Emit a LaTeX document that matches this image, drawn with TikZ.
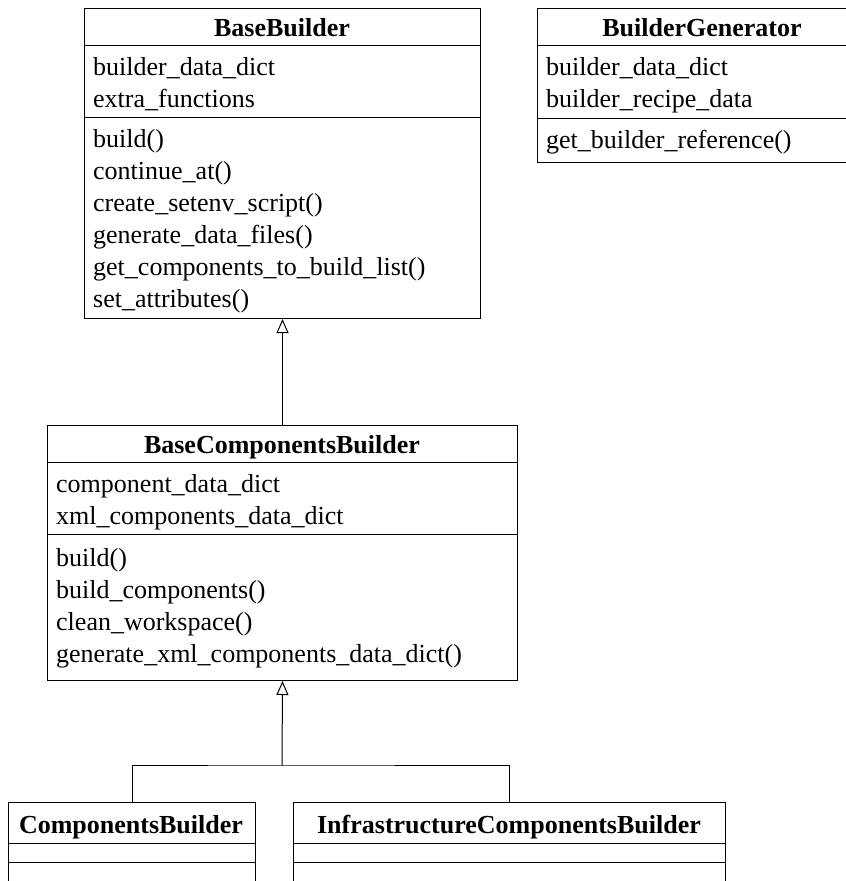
\documentclass[tikz,border=0pt]{standalone}
\usepackage{fontspec}
\setmainfont{Liberation Serif}
\usetikzlibrary{arrows.meta}
\tikzset{
  classbox/.style = {draw, line width=1pt, inner sep=0pt, anchor=north west},
  classname/.style = {anchor=base, inner sep=0pt, font=\fontsize{26}{30}\selectfont\bfseries},
  member/.style = {anchor=base west, inner sep=0pt, font=\fontsize{26}{30}\selectfont},
  inherit/.style = {line width=1pt, -{Triangle[open, length=14pt, width=12pt]}}
}

\begin{document}
\begin{tikzpicture}[x=1pt, y=-1pt]
  \useasboundingbox (0,0) rectangle (846,881);
  \clip (0,0) rectangle (846,881);

  % BaseBuilder
  \node[classbox, minimum width=396pt, minimum height=310pt] (bb) at (84,8) {};
  \draw[line width=1pt] (84,45) -- (480,45) (84,117) -- (480,117);
  \node[classname] (bbname) at (282,36) {BaseBuilder};
  \foreach \t [count=\i] in {builder\_data\_dict, extra\_functions}
    \node[member] (bba\i) at (93,43+32*\i) {\t};
  \foreach \t [count=\i] in {build(), continue\_at(), create\_setenv\_script(),
      generate\_data\_files(), get\_components\_to\_build\_list(), set\_attributes()}
    \node[member] (bbm\i) at (93,115+32*\i) {\t};

  % BuilderGenerator
  \node[classbox, minimum width=330pt, minimum height=154pt] (bg) at (537,8) {};
  \draw[line width=1pt] (537,45) -- (867,45) (537,118) -- (867,118);
  \node[classname] (bgname) at (702,36) {BuilderGenerator};
  \foreach \t [count=\i] in {builder\_data\_dict, builder\_recipe\_data}
    \node[member] (bga\i) at (546,43+32*\i) {\t};
  \node[member] (bgm1) at (546,148) {get\_builder\_reference()};

  % BaseComponentsBuilder
  \node[classbox, minimum width=470pt, minimum height=255pt] (bcb) at (47,425) {};
  \draw[line width=1pt] (47,462) -- (517,462) (47,534) -- (517,534);
  \node[classname] (bcbname) at (282,453) {BaseComponentsBuilder};
  \foreach \t [count=\i] in {component\_data\_dict, xml\_components\_data\_dict}
    \node[member] (bcba\i) at (56,460+32*\i) {\t};
  \foreach \t [count=\i] in {build(), build\_components(), clean\_workspace(),
      generate\_xml\_components\_data\_dict()}
    \node[member] (bcbm\i) at (56,534+32*\i) {\t};

  % subclasses, cut off at the bottom
  \node[classbox, minimum width=247pt, minimum height=120pt] (cb) at (8,802) {};
  \draw[line width=1pt] (8,843) -- (255,843) (8,862) -- (255,862);
  \node[classname] (cbname) at (131,833) {ComponentsBuilder};

  \node[classbox, minimum width=432pt, minimum height=120pt] (icb) at (293,802) {};
  \draw[line width=1pt] (293,843) -- (725,843) (293,862) -- (725,862);
  \node[classname] (icbname) at (509,833) {InfrastructureComponentsBuilder};

  % inheritance
  \draw[inherit] (bcb.north) -- (bb.south);
  \coordinate (fork) at (282,765);
  \draw[inherit] (fork) -- (bcb.south);
  \draw[line width=1pt] (cb.north) |- (fork) -| (icb.north);
\end{tikzpicture}
\end{document}
